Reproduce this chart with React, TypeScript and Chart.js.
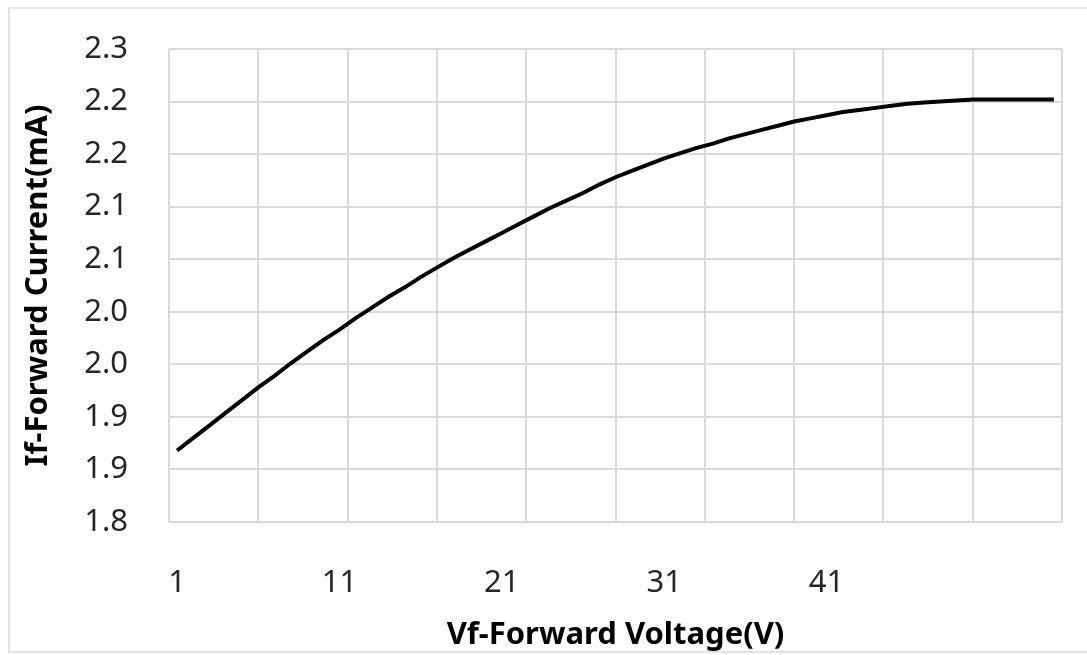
import React, { useEffect, useRef } from 'react';
import { Chart, registerables } from 'chart.js';

Chart.register(...registerables);

const voltage = [
  1, 2, 3, 4, 5, 6, 7, 8, 9, 10,
  11, 12, 13, 14, 15, 16, 17, 18, 19, 20,
  21, 22, 23, 24, 25, 26, 27, 28, 29, 30,
  31, 32, 33, 34, 35, 36, 37, 38, 39, 40,
  41, 42, 43, 44, 45, 46, 47, 48, 49, 50,
  51, 52, 53, 54, 55,
];

const current = [
  1.868, 1.880, 1.892, 1.904, 1.916, 1.928, 1.939, 1.951, 1.962, 1.973,
  1.983, 1.994, 2.004, 2.014, 2.023, 2.033, 2.042, 2.051, 2.059, 2.067,
  2.075, 2.083, 2.091, 2.099, 2.106, 2.113, 2.121, 2.128, 2.134, 2.140,
  2.146, 2.151, 2.156, 2.160, 2.165, 2.169, 2.173, 2.177, 2.181, 2.184,
  2.187, 2.190, 2.192, 2.194, 2.196, 2.198, 2.199, 2.200, 2.201, 2.202,
  2.202, 2.202, 2.202, 2.202, 2.202,
];

const yTickValues = [1.8, 1.85, 1.9, 1.95, 2.0, 2.05, 2.1, 2.15, 2.2, 2.25];
const yTickLabels = ['1.8', '1.9', '1.9', '2.0', '2.0', '2.1', '2.1', '2.2', '2.2', '2.3'];
const xTickValues = [1, 11, 21, 31, 41];
const xGridValues = [0.5, 6, 11.5, 17, 22.5, 28, 33.5, 39, 44.5, 50, 55.5];

const xTitle = 'Vf-Forward Voltage(V)';
const yTitle = 'If-Forward Current(mA)';

const FONT = '"Noto Sans", "DejaVu Sans", sans-serif';
const GRID = '#d9d9d9';

export default function App() {
  const ref = useRef<HTMLCanvasElement | null>(null);

  useEffect(() => {
    if (!ref.current) return;
    const chart = new Chart(ref.current, {
      type: 'line',
      data: {
        datasets: [
          {
            data: voltage.map((v, i) => ({ x: v, y: current[i] })),
            borderColor: '#000000',
            borderWidth: 4,
            pointRadius: 0,
            tension: 0,
            fill: false,
          },
        ],
      },
      options: {
        animation: false,
        responsive: false,
        devicePixelRatio: 1,
        layout: { padding: { left: 10, top: 49, right: 25, bottom: 0 } },
        plugins: {
          legend: { display: false },
          tooltip: { enabled: false },
        },
        scales: {
          x: {
            type: 'linear',
            position: 'bottom',
            min: 0.5,
            max: 55.5,
            afterBuildTicks: (s: any) => {
              s.ticks = xTickValues.map((v) => ({ value: v }));
            },
            afterFit: (s: any) => {
              s.height = 133;
            },
            ticks: {
              autoSkip: false,
              maxRotation: 0,
              padding: 43,
              color: '#262626',
              font: { family: FONT, size: 31 },
              callback: (v: any) => String(v),
            },
            grid: { display: false, drawTicks: false },
            border: { display: false },
            title: {
              display: true,
              text: xTitle,
              color: '#000000',
              font: { family: FONT, size: 31, weight: 'bold' },
              padding: { top: 0, bottom: 1 },
            },
          },
          xg: {
            type: 'linear',
            position: 'bottom',
            min: 0.5,
            max: 55.5,
            afterBuildTicks: (s: any) => {
              s.ticks = xGridValues.map((v) => ({ value: v }));
            },
            afterFit: (s: any) => {
              s.height = 0;
            },
            ticks: { display: false },
            grid: { color: GRID, lineWidth: 2, drawTicks: false },
            border: { display: false },
          },
          y: {
            type: 'linear',
            min: 1.8,
            max: 2.25,
            afterBuildTicks: (s: any) => {
              s.ticks = yTickValues.map((v) => ({ value: v }));
            },
            afterFit: (s: any) => {
              s.width = 159;
            },
            ticks: {
              padding: 12,
              color: '#262626',
              font: { family: FONT, size: 31 },
              callback: (_v: any, i: number) => yTickLabels[i],
            },
            grid: {
              color: GRID,
              lineWidth: 2,
              drawTicks: true,
              tickLength: 29,
              tickColor: 'rgba(0,0,0,0)',
            },
            border: { display: false },
            title: {
              display: true,
              text: yTitle,
              color: '#000000',
              font: { family: FONT, size: 31, weight: 'bold' },
              padding: { top: 10, bottom: 0 },
            },
          },
        },
      },
    });
    return () => chart.destroy();
  }, []);

  return (
    <div style={{ position: 'fixed', left: 0, top: 0, width: 1087, height: 655, background: '#ffffff', overflow: 'hidden' }}>
      <div
        style={{
          position: 'absolute',
          left: 8,
          top: 7,
          width: 1090,
          height: 646,
          border: '2px solid #e3e3e3',
          boxSizing: 'border-box',
        }}
      />
      <canvas ref={ref} width={1087} height={655} style={{ position: 'absolute', left: 0, top: 0, width: 1087, height: 655 }} />
    </div>
  );
}
